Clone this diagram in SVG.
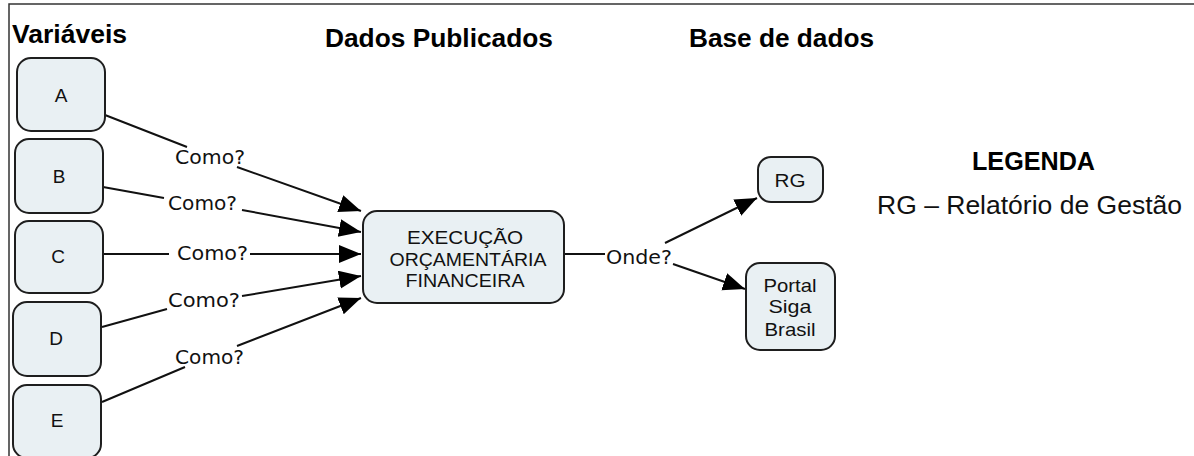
<svg xmlns="http://www.w3.org/2000/svg" width="1194" height="456" viewBox="0 0 1194 456">
<style>
.node rect{fill:#e9f0f3;stroke:#1e1e1e;stroke-width:2}
.nt{font-family:"Liberation Sans",Arial,sans-serif;font-size:19px;fill:#111;text-anchor:middle}
.hd{font-family:"Liberation Sans",Arial,sans-serif;font-size:25px;font-weight:bold;fill:#000}
.lbl{font-family:"DejaVu Sans",Verdana,sans-serif;font-size:19px;fill:#111}
.edge{fill:none;stroke:#111;stroke-width:2;marker-end:url(#arr)}
</style>
<defs>
<marker id="arr" markerUnits="userSpaceOnUse" markerWidth="24" markerHeight="20" refX="22" refY="9" orient="auto">
<path d="M0,0 L22,9 L0,18 z" fill="#000"/>
</marker>
</defs>
<rect width="1194" height="456" fill="#fff"/>
<path d="M9,456 V4 H1194" fill="none" stroke="#333" stroke-width="1.5"/>
<text class="hd" x="12" y="43" textLength="115" lengthAdjust="spacingAndGlyphs">Variáveis</text>
<text class="hd" x="325" y="47" textLength="228" lengthAdjust="spacingAndGlyphs">Dados Publicados</text>
<text class="hd" x="689" y="47" textLength="185" lengthAdjust="spacingAndGlyphs">Base de dados</text>
<g id="legenda">
<text class="hd" x="972" y="170" textLength="123" lengthAdjust="spacingAndGlyphs">LEGENDA</text>
<text x="877" y="214" font-family="'Liberation Sans',Arial,sans-serif" font-size="25" fill="#111" textLength="305" lengthAdjust="spacingAndGlyphs">RG – Relatório de Gestão</text>
</g>
<g id="connectors">
<path class="edge" d="M105,115 L187,147 M237,167 L361,211"/>
<path class="edge" d="M103,187 L164,198 M242,210 L361,232"/>
<path class="edge" d="M103,254 L169,254 M250,254 L361,254"/>
<path class="edge" d="M102,327 L167,309 M242,296 L361,276"/>
<path class="edge" d="M102,402 L185,367 M237,346 L361,298"/>
<path d="M564,254 L605,254" fill="none" stroke="#111" stroke-width="2"/>
<path class="edge" d="M665,243 L757,198"/>
<path class="edge" d="M673,264 L745,289"/>
<text class="lbl" x="175" y="164" textLength="70" lengthAdjust="spacingAndGlyphs">Como?</text>
<text class="lbl" x="168" y="210" textLength="69" lengthAdjust="spacingAndGlyphs">Como?</text>
<text class="lbl" x="177" y="260" textLength="71" lengthAdjust="spacingAndGlyphs">Como?</text>
<text class="lbl" x="168" y="307" textLength="72" lengthAdjust="spacingAndGlyphs">Como?</text>
<text class="lbl" x="175" y="364" textLength="69" lengthAdjust="spacingAndGlyphs">Como?</text>
<text class="lbl" x="606" y="264" textLength="66" lengthAdjust="spacingAndGlyphs">Onde?</text>
</g>
<g id="node-a" class="node"><rect x="17" y="58" width="88" height="73" rx="14"/><text class="nt" x="61" y="102">A</text></g>
<g id="node-b" class="node"><rect x="15" y="139" width="88" height="74" rx="14"/><text class="nt" x="59" y="183">B</text></g>
<g id="node-c" class="node"><rect x="15" y="221" width="88" height="72" rx="14"/><text class="nt" x="58" y="263">C</text></g>
<g id="node-d" class="node"><rect x="13" y="302" width="88" height="74" rx="14"/><text class="nt" x="56" y="345">D</text></g>
<g id="node-e" class="node"><rect x="13" y="385" width="88" height="73" rx="14"/><text class="nt" x="57" y="427">E</text></g>
<g id="node-exec" class="node"><rect x="363" y="211" width="201" height="92" rx="14"/>
<text class="nt" x="465" y="244" textLength="116" lengthAdjust="spacingAndGlyphs">EXECUÇÃO</text>
<text class="nt" x="468" y="266" textLength="157" lengthAdjust="spacingAndGlyphs">ORÇAMENTÁRIA</text>
<text class="nt" x="465" y="287" textLength="119" lengthAdjust="spacingAndGlyphs">FINANCEIRA</text>
</g>
<g id="node-rg" class="node"><rect x="758" y="157" width="65" height="45" rx="13"/><text class="nt" x="790" y="187" textLength="31" lengthAdjust="spacingAndGlyphs">RG</text></g>
<g id="node-portal" class="node"><rect x="746" y="263" width="89" height="87" rx="14"/>
<text class="nt" x="790" y="292" textLength="53" lengthAdjust="spacingAndGlyphs">Portal</text>
<text class="nt" x="790" y="313" textLength="43" lengthAdjust="spacingAndGlyphs">Siga</text>
<text class="nt" x="790" y="336" textLength="51" lengthAdjust="spacingAndGlyphs">Brasil</text>
</g>
</svg>
